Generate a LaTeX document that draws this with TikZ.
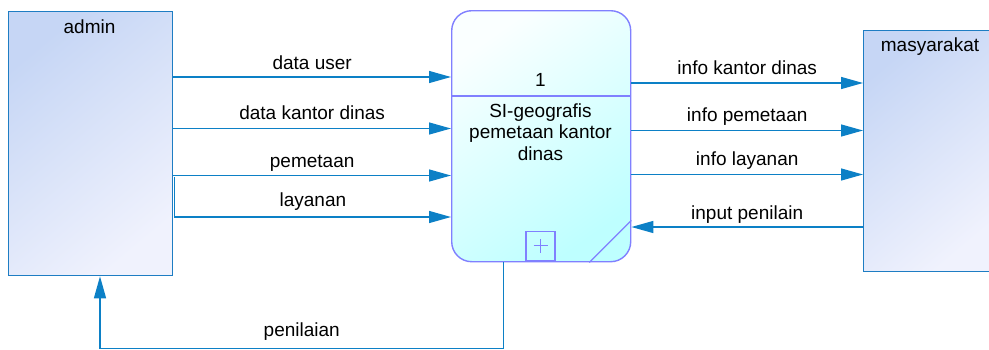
\documentclass[tikz,border=0pt]{standalone}
\usepackage{fontspec}
\setmainfont{Liberation Sans}
\usetikzlibrary{arrows.meta,calc}

\definecolor{flowblue}{RGB}{12,128,198}
\definecolor{entline}{RGB}{30,125,195}
\definecolor{entdark}{RGB}{198,214,245}
\definecolor{entlight}{RGB}{240,242,253}
\definecolor{procline}{RGB}{128,128,255}
\definecolor{proclight}{RGB}{250,255,255}
\definecolor{procdark}{RGB}{190,255,255}

\tikzset{
  entity/.style={draw=entline, line width=1.3pt, shading=axis,
    top color=entdark, bottom color=entlight, shading angle=40,
    minimum width=#1, inner sep=0pt},
  procbox/.style={draw=procline, line width=1.4pt, rounded corners=20pt,
    shading=axis, top color=proclight, bottom color=procdark, shading angle=35,
    minimum width=179pt, minimum height=251pt, inner sep=0pt},
  flow/.style={draw=flowblue, line width=1.3pt,
    -{Triangle[length=22pt,width=12pt]}},
  flowlabel/.style={font=\fontsize{19}{21}\selectfont, text depth=0pt,
    inner sep=0pt, anchor=south, yshift=#1},
  flowlabel/.default=7.5pt,
  boxtext/.style={font=\fontsize{19}{21.5}\selectfont, align=center, inner sep=0pt},
}

\begin{document}
\begin{tikzpicture}[x=1pt,y=-1pt]
  \clip (0,0) rectangle (989,349);
  \fill[white] (0,0) rectangle (989,349);

  % external entities
  \node[entity=164pt, minimum height=264pt, anchor=north west] (admin) at (8,11) {};
  \node[boxtext, anchor=base] (adminlbl) at (89.5,33) {admin};
  \node[entity=132pt, minimum height=241pt, anchor=north west] (masy) at (863,30) {};
  \node[boxtext, anchor=base] (masylbl) at (930,51.5) {masyarakat};

  % process
  \node[procbox, anchor=north west] (proc) at (451,10) {};
  \draw[procline, line width=1.3pt] ($(proc.north west)+(0,86)$) -- ($(proc.north east)+(0,86)$);
  \node[boxtext, anchor=base] (procnum) at (540.5,86) {1};
  \node[boxtext, anchor=north] (procname) at (540.5,103.5) {SI-geografis\\pemetaan kantor\\dinas};
  \node[draw=procline, line width=1.3pt, minimum size=29pt, inner sep=0pt, anchor=south] (plus) at (540.5,261) {};
  \draw[procline, line width=0.9pt] ($(plus.center)+(-7,0)$) -- ($(plus.center)+(7,0)$)
    ($(plus.center)+(0,-7)$) -- ($(plus.center)+(0,7)$);
  \draw[procline, line width=1.3pt] ($(proc.south east)+(-42,0)$) -- ($(proc.south east)+(0,-42)$);

  % data flows admin -> process
  \draw[flow] (admin.east |- 0,77) -- node[flowlabel=7pt] {data user} (proc.west |- 0,77);
  \draw[flow] (admin.east |- 0,128.5) -- node[flowlabel=8pt] {data kantor dinas} (proc.west |- 0,128.5);
  \draw[flow] (admin.east |- 0,175.5) -- node[flowlabel=7.5pt] {pemetaan} (proc.west |- 0,175.5);
  \draw[flow] ($(admin.east |- 0,177)+(1.5,0)$) |- node[flowlabel=10pt, pos=0.75] {layanan} (proc.west |- 0,217);

  % data flows process <-> masyarakat
  \draw[flow] (proc.east |- 0,83) -- node[flowlabel=8pt] {info kantor dinas} (masy.west |- 0,83);
  \draw[flow] (proc.east |- 0,130.5) -- node[flowlabel=8pt] {info pemetaan} (masy.west |- 0,130.5);
  \draw[flow] (proc.east |- 0,174.5) -- node[flowlabel=8.5pt] {info layanan} (masy.west |- 0,174.5);
  \draw[flow] (masy.west |- 0,227) -- node[flowlabel=6.5pt] {input penilain} (proc.east |- 0,227);

  % feedback flow process -> admin
  \coordinate (bend) at (503.5,348.5);
  \draw[flow] (proc.south -| bend) |- node[flowlabel=11pt, pos=0.75] {penilaian} (bend -| 100,0) -- (admin.south -| 100,0);
\end{tikzpicture}
\end{document}
